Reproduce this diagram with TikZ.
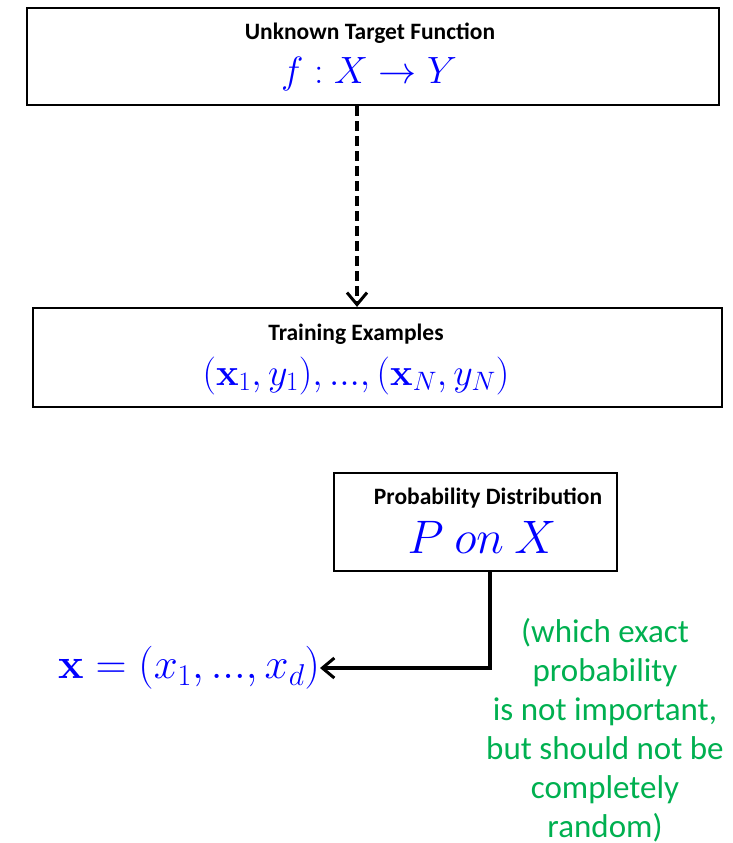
\RequirePackage{fix-cm}
\documentclass[tikz,border=0pt]{standalone}
\usepackage{amsmath}
\usepackage[no-math]{fontspec}
\setmainfont{Carlito}
\usetikzlibrary{arrows.meta,positioning}
\definecolor{notegreen}{RGB}{0,176,80}
\newcommand{\sz}[2]{\fontsize{#1}{#2}\selectfont}

\begin{document}
\begin{tikzpicture}[x=1pt, y=-1pt,
  tip/.style={-{Straight Barb[length=12pt,width=20pt,line width=3pt]}},
  box/.style={draw, line width=2.2pt, inner sep=0pt},
  ttl/.style={anchor=base, inner sep=0pt, font=\bfseries\sz{23.5}{28}},
  eq/.style={anchor=base, inner sep=0pt, text=blue},
  note/.style={align=center, inner sep=0pt, text=notegreen, font=\sz{33}{39}}]
\useasboundingbox (0,0) rectangle (733,843);
% boxes
\node[box, minimum width=692pt, minimum height=97pt] (target) at (373,56.5) {};
\node[box, minimum width=689pt, minimum height=99pt] (train) at (377.5,357.5) {};
\node[box, minimum width=283pt, minimum height=98pt] (dist) at (475.5,522) {};
% box texts
\node[ttl] (targetT) at (370,40) {Unknown Target Function};
\node[eq, font=\sz{38}{46}] (targetF) at (369,83) {$f : X \to Y$};
\node[ttl] (trainT) at (356,340) {Training Examples};
\node[eq, font=\sz{38}{46}] (trainF) at (356,385) {$(\mathbf{x}_1, y_1), ..., (\mathbf{x}_N, y_N)$};
\node[ttl] (distT) at (488,504) {Probability Distribution};
\node[eq, font=\sz{47}{56}] (distF) at (482,553) {$P\ on\ X$};
% sample and remark
\node[eq, anchor=east, font=\sz{43}{52}] (xvec) at (320,668) {$\mathbf{x} = (x_1, ..., x_d)$};
\node[note] (remark) at (605,730) {(which exact\\probability\\is not important,\\but should not be\\completely\\random)};
% connectors
\draw[tip, line width=3.4pt, dash pattern=on 10pt off 5pt] (target.south -| 357,0) -- (train.north -| 357,0);
\draw[tip, line width=3.2pt] ([xshift=14.5pt]dist.south) |- (xvec.east);
\end{tikzpicture}
\end{document}
